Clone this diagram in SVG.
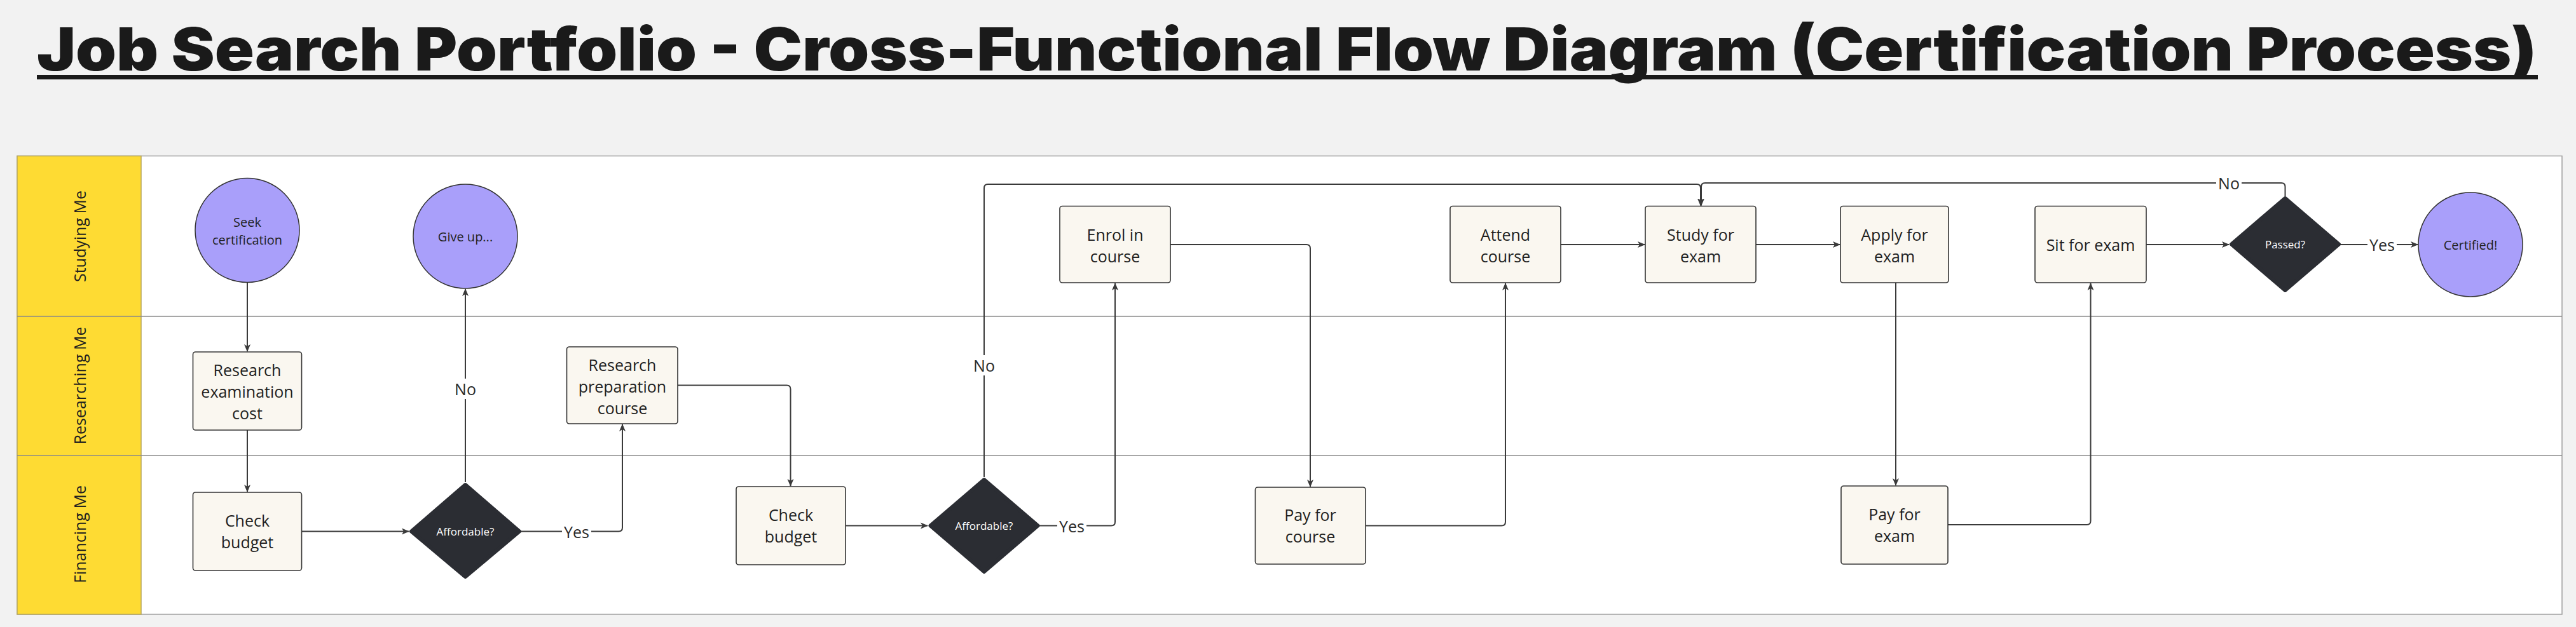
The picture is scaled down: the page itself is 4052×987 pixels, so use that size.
<svg xmlns="http://www.w3.org/2000/svg" width="4052" height="987" viewBox="0 0 4052 987">
<defs>
<style>
.title{font-family:Inter,"Liberation Sans",sans-serif;font-weight:900;font-size:94px;fill:#1a1a1a}
.lane{font-family:"Open Sans","Noto Sans",sans-serif;font-size:25px;fill:#1f1f1f}
.t{font-family:"Open Sans","Noto Sans",sans-serif;font-size:25px;fill:#1f1f1f;text-anchor:middle;dominant-baseline:central}
.tc{font-family:"Open Sans","Noto Sans",sans-serif;font-size:20px;fill:#1f1f1f;text-anchor:middle;dominant-baseline:central}
.td{font-family:"Open Sans","Noto Sans",sans-serif;font-size:17px;fill:#ffffff;text-anchor:middle;dominant-baseline:central}
.lbl{font-family:"Open Sans","Noto Sans",sans-serif;font-size:25px;fill:#2a2a2a;text-anchor:middle;dominant-baseline:central}
.box{fill:#faf7f0;stroke:#333;stroke-width:1.6}
.circ{fill:#a99ffa;stroke:#333;stroke-width:1.5}
.dia{fill:#2b2d33;stroke:#2b2d33;stroke-width:6;stroke-linejoin:round}
.c{fill:none;stroke:#3a3a3a;stroke-width:2;marker-end:url(#ah)}
.cn{fill:none;stroke:#3a3a3a;stroke-width:2}
.lb{fill:#ffffff}
</style>
<marker id="ah" viewBox="0 0 12 12" refX="11" refY="6" markerWidth="12" markerHeight="12" markerUnits="userSpaceOnUse" orient="auto">
<path d="M0,1 L12,6 L0,11 L3,6 Z" fill="#3a3a3a"/>
</marker>
</defs>
<rect x="0" y="0" width="4052" height="987" fill="#f2f2f2"/>
<g id="title">
<text class="title" x="58" y="111" textLength="3932" lengthAdjust="spacingAndGlyphs">Job Search Portfolio - Cross-Functional Flow Diagram (Certification Process)</text>
<rect x="58" y="118" width="3934" height="7" fill="#1a1a1a"/>
</g>
<g id="lanes">
<rect x="27" y="245.5" width="4003" height="721.5" fill="#ffffff" stroke="#a0a0a0" stroke-width="1.5"/>
<rect x="27" y="245.5" width="195" height="721.5" fill="#fedb33" stroke="#b8a860" stroke-width="1.5"/>
<line x1="27" y1="498" x2="4030" y2="498" stroke="#8a8a8a" stroke-width="1.5"/>
<line x1="27" y1="717" x2="4030" y2="717" stroke="#8a8a8a" stroke-width="1.5"/>
<text class="lane" text-anchor="middle" dominant-baseline="central" transform="translate(125 372) rotate(-90)">Studying Me</text>
<text class="lane" text-anchor="middle" dominant-baseline="central" transform="translate(125 607) rotate(-90)">Researching Me</text>
<text class="lane" text-anchor="middle" dominant-baseline="central" transform="translate(125 841) rotate(-90)">Financing Me</text>
</g>
<g id="connectors">
<path class="c" d="M389,445 L389,553"/>
<path class="c" d="M389,677 L389,774"/>
<path class="c" d="M475,836.5 L643,836.5"/>
<path class="c" d="M732,759 L732,455"/>
<path class="c" d="M819,836.5 L973,836.5 Q979,836.5 979,830.5 L979,668"/>
<path class="c" d="M1066,606.5 L1237.5,606.5 Q1243.5,606.5 1243.5,612.5 L1243.5,765"/>
<path class="c" d="M1330,827.5 L1459,827.5"/>
<path class="c" d="M1548,751 L1548,296 Q1548,290 1554,290 L2669,290 Q2675,290 2675,296 L2675,323.5"/>
<path class="c" d="M1634,827.5 L1748,827.5 Q1754,827.5 1754,821.5 L1754,446"/>
<path class="c" d="M1841,385 L2055,385 Q2061,385 2061,391 L2061,766"/>
<path class="c" d="M2148,827.5 L2362,827.5 Q2368,827.5 2368,821.5 L2368,446"/>
<path class="c" d="M2455,385 L2587,385"/>
<path class="c" d="M2762,385 L2894,385"/>
<path class="c" d="M2982,445 L2982,764"/>
<path class="c" d="M3064,826 L3282.5,826 Q3288.5,826 3288.5,820 L3288.5,446"/>
<path class="c" d="M3376,385 L3506,385"/>
<path class="c" d="M3594.5,309 L3594.5,294 Q3594.5,288 3588.5,288 L2682,288 Q2676,288 2676,294 L2676,323.5"/>
<path class="c" d="M3681,385 L3803,385"/>
<rect class="lb" x="712" y="596" width="40" height="32"/>
<text class="lbl" x="732" y="612">No</text>
<rect class="lb" x="884" y="821" width="46" height="32"/>
<text class="lbl" x="907" y="837">Yes</text>
<rect class="lb" x="1528" y="559" width="40" height="32"/>
<text class="lbl" x="1548" y="575">No</text>
<rect class="lb" x="1663" y="811" width="46" height="32"/>
<text class="lbl" x="1686" y="827.5">Yes</text>
<rect class="lb" x="3486" y="272" width="40" height="32"/>
<text class="lbl" x="3506" y="288">No</text>
<rect class="lb" x="3724" y="369" width="46" height="32"/>
<text class="lbl" x="3747" y="385">Yes</text>
</g>
<g id="seek">
<circle class="circ" cx="389" cy="362.5" r="82"/>
<text class="tc"><tspan x="389" y="349">Seek</tspan><tspan x="389" y="377">certification</tspan></text>
</g>
<g id="giveup">
<circle class="circ" cx="732" cy="372" r="82"/>
<text class="tc" x="732" y="372">Give up...</text>
</g>
<g id="research-cost">
<rect class="box" x="303.5" y="554" width="171" height="123" rx="4"/>
<text class="t"><tspan x="389" y="582">Research</tspan><tspan x="389" y="616">examination</tspan><tspan x="389" y="650">cost</tspan></text>
</g>
<g id="check-budget-1">
<rect class="box" x="303.5" y="775" width="171" height="123" rx="4"/>
<text class="t"><tspan x="389" y="819">Check</tspan><tspan x="389" y="853">budget</tspan></text>
</g>
<g id="affordable-1">
<polygon class="dia" points="732,763 817,836.5 732,908 647,836.5"/>
<text class="td" x="732" y="836.5">Affordable?</text>
</g>
<g id="research-prep">
<rect class="box" x="891.5" y="546" width="174.5" height="121" rx="4"/>
<text class="t"><tspan x="979" y="574">Research</tspan><tspan x="979" y="608">preparation</tspan><tspan x="979" y="642">course</tspan></text>
</g>
<g id="check-budget-2">
<rect class="box" x="1158" y="766" width="172" height="123" rx="4"/>
<text class="t"><tspan x="1244" y="810">Check</tspan><tspan x="1244" y="844">budget</tspan></text>
</g>
<g id="affordable-2">
<polygon class="dia" points="1548,755 1632.5,827.5 1548,900 1463.5,827.5"/>
<text class="td" x="1548" y="827.5">Affordable?</text>
</g>
<g id="enrol">
<rect class="box" x="1667" y="324.5" width="174" height="120.5" rx="4"/>
<text class="t"><tspan x="1754" y="369">Enrol in</tspan><tspan x="1754" y="403">course</tspan></text>
</g>
<g id="pay-course">
<rect class="box" x="1974.5" y="767" width="173.5" height="121" rx="4"/>
<text class="t"><tspan x="2061" y="810">Pay for</tspan><tspan x="2061" y="844">course</tspan></text>
</g>
<g id="attend">
<rect class="box" x="2281" y="324.5" width="174" height="120.5" rx="4"/>
<text class="t"><tspan x="2368" y="369">Attend</tspan><tspan x="2368" y="403">course</tspan></text>
</g>
<g id="study">
<rect class="box" x="2588" y="324.5" width="174" height="120.5" rx="4"/>
<text class="t"><tspan x="2675" y="369">Study for</tspan><tspan x="2675" y="403">exam</tspan></text>
</g>
<g id="apply">
<rect class="box" x="2895" y="324.5" width="170" height="120.5" rx="4"/>
<text class="t"><tspan x="2980" y="369">Apply for</tspan><tspan x="2980" y="403">exam</tspan></text>
</g>
<g id="pay-exam">
<rect class="box" x="2896" y="765" width="168" height="123" rx="4"/>
<text class="t"><tspan x="2980" y="809">Pay for</tspan><tspan x="2980" y="843">exam</tspan></text>
</g>
<g id="sit">
<rect class="box" x="3201" y="324.5" width="175" height="120.5" rx="4"/>
<text class="t" x="3288.5" y="385">Sit for exam</text>
</g>
<g id="passed">
<polygon class="dia" points="3594.5,312 3679,384.5 3594.5,457 3510,384.5"/>
<text class="td" x="3594.5" y="384.5">Passed?</text>
</g>
<g id="certified">
<circle class="circ" cx="3886" cy="385" r="82"/>
<text class="tc" x="3886" y="385">Certified!</text>
</g>
</svg>
